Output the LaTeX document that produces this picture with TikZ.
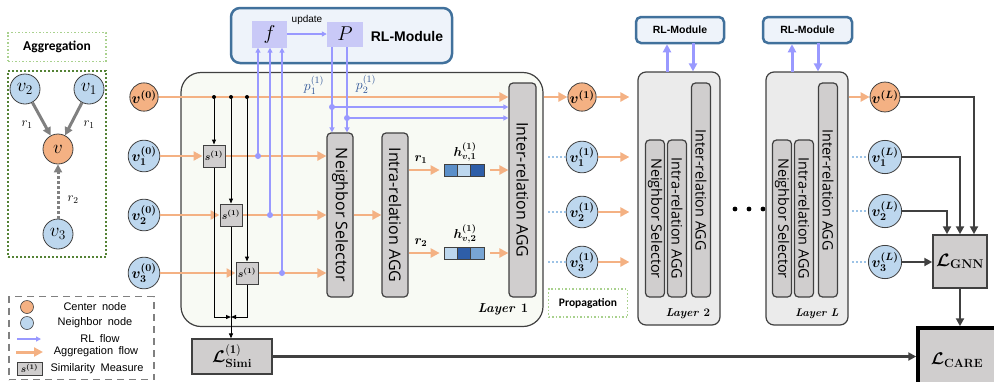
\documentclass[tikz,border=0pt]{standalone}
\usepackage{fix-cm}
\usepackage{amsmath,bm}
\usepackage{fontspec}
\newfontfamily\calibri{Carlito}
\newfontfamily\arialf{Liberation Sans}
\newfontfamily\opensans{Open Sans}
\usetikzlibrary{arrows.meta,calc}

\definecolor{orfill}{HTML}{F4B183}
\definecolor{orline}{HTML}{F4B183}
\definecolor{blfill}{HTML}{BDD7EE}
\definecolor{rlc}{HTML}{9999FF}
\definecolor{rlbox}{HTML}{C9C9F7}
\definecolor{modfill}{HTML}{EEF3FA}
\definecolor{modline}{HTML}{41719C}
\definecolor{boxgrey}{HTML}{D0CECE}
\definecolor{edge}{HTML}{404040}
\definecolor{l1fill}{HTML}{F8FAF4}
\definecolor{lfill}{HTML}{EBEBEB}
\definecolor{aggdark}{HTML}{548235}
\definecolor{agglight}{HTML}{A9D18E}
\definecolor{dotblue}{HTML}{9DC3E6}
\definecolor{pblue}{HTML}{2F5597}
\definecolor{hA}{HTML}{5B8FC9}
\definecolor{hB}{HTML}{BDD7EE}
\definecolor{hC}{HTML}{2E5EA8}

\newcommand{\fsz}[1]{\fontsize{#1}{#1}\selectfont}
\newcommand{\legfont}{\arialf\fsz{11}\spaceskip=0.5em\relax}

\begin{document}
\begin{tikzpicture}[x=1pt,y=-1pt,
  orflow/.style={draw=orline, line width=2.8pt, -{Triangle[length=9pt,width=9pt]}},
  rlflow/.style={draw=rlc, line width=1.3pt, -{Triangle[length=5pt,width=5pt]}},
  rlthick/.style={draw=rlc, line width=3pt, -{Triangle[length=8pt,width=8pt]}},
  blk/.style={draw=black, line width=1pt, -{Triangle[length=5pt,width=4pt]}},
  gflow/.style={draw=edge, line width=2.5pt, -{Triangle[length=8pt,width=8pt]}},
  aggflow/.style={draw=gray, line width=3pt, -{Triangle[length=8pt,width=8pt]}},
  onode/.style={circle, draw=edge, fill=orfill, line width=0.8pt, minimum size=28pt, inner sep=0pt, font=\fsz{15}},
  bnode/.style={circle, draw=edge, fill=blfill, line width=0.8pt, minimum size=28pt, inner sep=0pt, font=\fsz{15}},
  gbox/.style={draw=edge, fill=boxgrey, rounded corners=4pt, line width=1.2pt, inner sep=0pt},
  sbox/.style={draw=edge, fill=boxgrey, line width=1pt, minimum size=22pt, inner sep=0pt, font=\fsz{10.5}},
  cell/.style={draw=edge, line width=0.8pt, minimum width=13.3pt, minimum height=12pt, inner sep=0pt},
  dotb/.style={draw=dotblue, line width=2pt, dotted},
  rldot/.style={circle, fill=rlc, minimum size=6pt, inner sep=0pt},
  bdot/.style={circle, fill=black, minimum size=4pt, inner sep=0pt},
  layerbox/.style={draw=edge, fill=lfill, rounded corners=8pt, line width=1.2pt, inner sep=0pt},
  modbox/.style={draw=modline, fill=modfill, line width=2.5pt, rounded corners=5pt, inner sep=0pt, font=\arialf\bfseries\fsz{10.5}},
  rottext/.style={rotate=-90, font=\opensans\fsz{16}},
  rottexts/.style={rotate=-90, font=\opensans\fsz{14.4}},
  legtext/.style={font=\legfont},
]
\useasboundingbox (0,0) rectangle (994,381);

% ---------- aggregation sketch ----------
\node[draw=agglight, dotted, line width=1.5pt, minimum width=98pt, minimum height=29pt, font=\calibri\bfseries\fsz{13.5}] (aggl) at (57,47) {Aggregation};
\node[draw=aggdark, dotted, line width=2pt, minimum width=98pt, minimum height=186pt] (aggb) at (57,164) {};
\node[bnode, minimum size=30pt, font=\fsz{19}] (av2) at (25,89) {$v_2$};
\node[bnode, minimum size=30pt, font=\fsz{19}] (av1) at (89,89) {$v_1$};
\node[onode, minimum size=30pt, font=\fsz{19}] (avc) at (58,149) {$v$};
\node[bnode, minimum size=30pt, font=\fsz{19}] (av3) at (58,234) {$v_3$};
\draw[aggflow] (av2) -- (avc);
\draw[aggflow] (av1) -- (avc);
\draw[aggflow, dotted] (av3) -- (avc);
\node[font=\fsz{13}] (ar1a) at (27,125) {$r_1$};
\node[font=\fsz{13}] (ar1b) at (89,125) {$r_1$};
\node[font=\fsz{13}] (ar2) at (73,200) {$r_2$};

% ---------- legend ----------
\node[draw=gray, line width=1.8pt, dash pattern=on 7pt off 5pt, minimum width=145pt, minimum height=83pt] (leg) at (81.5,338) {};
\node[circle, draw=edge, fill=orfill, line width=0.6pt, minimum size=13pt, inner sep=0pt] (lego) at (27,307) {};
\node[circle, draw=edge, fill=blfill, line width=0.6pt, minimum size=13pt, inner sep=0pt] (legb) at (27,323) {};
\coordinate (lr1) at (17,339); \coordinate (lr2) at (41,339);
\draw[rlflow] (lr1) -- (lr2);
\coordinate (la1) at (16,352); \coordinate (la2) at (43,352);
\draw[orflow, line width=3pt] (la1) -- (la2);
\node[sbox, minimum width=25pt, minimum height=13pt, font=\fsz{10}] (legs) at (29.5,368.5) {$\bm{s^{(1)}}$};
\node[legtext] (lt1) at (95,307) {Center node};
\node[legtext] (lt2) at (95,323) {Neighbor node};
\node[legtext] (lt3) at (100,339) {RL flow};
\node[legtext] (lt4) at (96,352) {Aggregation flow};
\node[legtext] (lt5) at (97,369) {Similarity Measure};

% ---------- RL module of layer 1 ----------
\node[draw=modline, fill=modfill, line width=2.5pt, rounded corners=9pt, minimum width=221pt, minimum height=55pt] (rlm) at (341.5,35.5) {};
\node[fill=rlbox, minimum width=35pt, minimum height=27pt, inner sep=0pt, font=\fsz{20}] (f) at (269.5,34) {$f$};
\node[fill=rlbox, minimum width=36pt, minimum height=25pt, inner sep=0pt, font=\fsz{20}] (P) at (345,34) {$P$};
\draw[rlflow] (f.east) -- (P.west);
\node[font=\arialf\fsz{10}] (upd) at (307,20) {update};
\node[font=\arialf\bfseries\fsz{14}] (rlmt) at (407,36) {RL-Module};

% ---------- layer 1 ----------
\node[draw=edge, fill=l1fill, rounded corners=20pt, line width=1.2pt, minimum width=362pt, minimum height=254pt] (L1) at (362,199.5) {};
\node[font=\bfseries\itshape\fsz{13}] (L1t) at (503,309) {Layer \textup{1}};

\node[onode] (v0) at (144,97) {$\bm{v^{(0)}}$};
\node[bnode] (v10) at (144,156) {$\bm{v_1^{(0)}}$};
\node[bnode] (v20) at (144,215) {$\bm{v_2^{(0)}}$};
\node[bnode] (v30) at (144,273) {$\bm{v_3^{(0)}}$};

\node[sbox] (s1) at (214,156) {$\bm{s^{(1)}}$};
\node[sbox] (s2) at (231,215) {$\bm{s^{(1)}}$};
\node[sbox] (s3) at (247,273) {$\bm{s^{(1)}}$};

\node[gbox, minimum width=26pt, minimum height=164pt] (ns1) at (340,215) {};
\node[rottext] (ns1t) at (ns1) {Neighbor Selector};
\node[gbox, minimum width=26pt, minimum height=164pt] (intra1) at (395,215) {};
\node[rottext] (intra1t) at (intra1) {Intra-relation AGG};
\node[gbox, minimum width=27pt, minimum height=214pt] (inter1) at (522.5,190) {};
\node[rottext] (inter1t) at (inter1) {Inter-relation AGG};

% aggregation flow of layer 1
\draw[orflow] (v0.east) -- (v0.east -| inter1.west);
\draw[orflow] (v10.east) -- (s1.west);
\draw[orflow] (v20.east) -- (s2.west);
\draw[orflow] (v30.east) -- (s3.west);
\draw[orflow] (s1.east) -- (s1.east -| ns1.west);
\draw[orflow] (s2.east) -- (s2.east -| ns1.west);
\draw[orflow] (s3.east) -- (s3.east -| ns1.west);
\draw[orflow] (ns1.east) -- (intra1.west);

% similarity measures
\node[bdot] (b1) at (214,97) {};
\node[bdot] (b2) at (231,97) {};
\node[bdot] (b3) at (247,97) {};
\draw[blk] (b1.center) -- (s1.north);
\draw[blk] (b2.center) -- (s2.north);
\draw[blk] (b3.center) -- (s3.north);
\coordinate (jm) at (231,317);
\draw[blk] (s1.south) |- (jm);
\draw[blk] (s3.south) |- (jm);
\node[draw=edge, fill=boxgrey, line width=1.2pt, minimum width=80pt, minimum height=35pt, inner sep=0pt, font=\fsz{17}] (simi) at (232,356.5) {$\bm{\mathcal{L}}^{(\mathbf{1})}_{\textbf{Simi}}$};
\draw[blk] (s2.south) -- (s2.south |- simi.north);

% RL flow of layer 1
\node[rldot] (d1) at (258,156) {};
\node[rldot] (d2) at (270,215) {};
\node[rldot] (d3) at (282,273) {};
\draw[rlflow] (d1.center) -- (d1 |- f.south);
\draw[rlflow] (d2.center) -- (d2 |- f.south);
\draw[rlflow] (d3.center) -- (d3 |- f.south);
\coordinate (pa) at (332,47);
\coordinate (pb) at (347,47);
\draw[rlflow] (pa) -- (pa |- ns1.north);
\draw[rlflow] (pb) -- (pb |- ns1.north);
\node[rldot] (pd1) at (332,107) {};
\node[rldot] (pd2) at (347,118) {};
\draw[rlflow] (pd1.center) -- (pd1 -| inter1.west);
\draw[rlflow] (pd2.center) -- (pd2 -| inter1.west);
\node[text=pblue, font=\fsz{14}] (p1l) at (314,85) {$p_1^{(1)}$};
\node[text=pblue, font=\fsz{14}] (p2l) at (366,84) {$p_2^{(1)}$};

% relation embeddings
\node[cell, fill=hA] (h1a) at (450.7,170) {};
\node[cell, fill=hB] (h1b) at (464,170) {};
\node[cell, fill=hC] (h1c) at (477.3,170) {};
\node[cell, fill=hB] (h2a) at (450.7,253) {};
\node[cell, fill=hC] (h2b) at (464,253) {};
\node[cell, fill=hA!70!hB] (h2c) at (477.3,253) {};
\draw[orflow, shorten >=4pt] (intra1.east |- h1a) -- (h1a.west);
\draw[orflow, shorten >=4pt] (intra1.east |- h2a) -- (h2a.west);
\draw[orflow, shorten <=6pt] (h1c.east) -- (h1c -| inter1.west);
\draw[orflow, shorten <=6pt] (h2c.east) -- (h2c -| inter1.west);
\node[font=\fsz{13}] (r1l) at (421,160) {$\bm{r_1}$};
\node[font=\fsz{13}] (r2l) at (421,243) {$\bm{r_2}$};
\node[font=\fsz{13}] (h1l) at (465,152) {$\bm{h_{v,1}^{(1)}}$};
\node[font=\fsz{13}] (h2l) at (465,234) {$\bm{h_{v,2}^{(1)}}$};

% ---------- propagation ----------
\node[draw=agglight, dotted, line width=1.5pt, minimum width=79pt, minimum height=28pt, font=\calibri\bfseries\fsz{11.5}] (prop) at (588,303) {Propagation};
\node[onode] (v1o) at (582,97) {$\bm{v^{(1)}}$};
\node[bnode] (v11) at (582,157) {$\bm{v_1^{(1)}}$};
\node[bnode] (v21) at (582,212) {$\bm{v_2^{(1)}}$};
\node[bnode] (v31) at (582,262) {$\bm{v_3^{(1)}}$};

% ---------- layer 2 ----------
\node[layerbox, minimum width=82pt, minimum height=253pt] (L2) at (679,198.5) {};
\node[gbox, minimum width=19pt, minimum height=157pt] (ns2) at (655,218.5) {};
\node[rottexts] (ns2t) at (ns2) {Neighbor Selector};
\node[gbox, minimum width=19pt, minimum height=157pt] (intra2) at (677,218.5) {};
\node[rottexts] (intra2t) at (intra2) {Intra-relation AGG};
\node[gbox, minimum width=19pt, minimum height=214pt] (inter2) at (701,190) {};
\node[rottexts] (inter2t) at (inter2) {Inter-relation AGG};
\node[font=\bfseries\itshape\fsz{11.5}] (L2t) at (688,314) {Layer \textup{2}};
\node[modbox, minimum width=88pt, minimum height=26pt] (rm2) at (680,30) {RL-Module};
\coordinate (u2) at (667,72); \coordinate (w2) at (693,43);
\draw[rlthick] (u2) -- (u2 |- rm2.south);
\draw[rlthick] (w2) -- (w2 |- L2.north);

\draw[orflow] (L1.east |- v1o) -- (v1o.west);
\draw[orflow, shorten >=8pt] (v1o.east) -- (v1o -| L2.west);
\draw[orflow, shorten >=8pt] (v11.east) -- (v11 -| L2.west);
\draw[orflow, shorten >=8pt] (v21.east) -- (v21 -| L2.west);
\draw[orflow, shorten >=8pt] (v31.east) -- (v31 -| L2.west);
\coordinate (q1) at (548,157); \coordinate (q2) at (548,212); \coordinate (q3) at (548,262);
\draw[dotb] (q1) -- (v11.west);
\draw[dotb] (q2) -- (v21.west);
\draw[dotb] (q3) -- (v31.west);

% ellipsis between layers
\fill (735,209) circle (2.4pt);
\fill (749,209) circle (2.4pt);
\fill (763,209) circle (2.4pt);

% ---------- layer L ----------
\node[layerbox, minimum width=82pt, minimum height=253pt] (LL) at (807,198.5) {};
\node[gbox, minimum width=19pt, minimum height=157pt] (nsL) at (782,218.5) {};
\node[rottexts] (nsLt) at (nsL) {Neighbor Selector};
\node[gbox, minimum width=19pt, minimum height=157pt] (intraL) at (804,218.5) {};
\node[rottexts] (intraLt) at (intraL) {Intra-relation AGG};
\node[gbox, minimum width=19pt, minimum height=214pt] (interL) at (828,190) {};
\node[rottexts] (interLt) at (interL) {Inter-relation AGG};
\node[font=\bfseries\itshape\fsz{11}] (LLt) at (817,314) {Layer L};
\node[modbox, minimum width=89pt, minimum height=26pt] (rmL) at (807.5,30) {RL-Module};
\coordinate (uL) at (792,72); \coordinate (wL) at (818,43);
\draw[rlthick] (uL) -- (uL |- rmL.south);
\draw[rlthick] (wL) -- (wL |- LL.north);

\node[onode] (vL) at (885,97) {$\bm{v^{(L)}}$};
\node[bnode] (v1L) at (885,157) {$\bm{v_1^{(L)}}$};
\node[bnode] (v2L) at (885,211) {$\bm{v_2^{(L)}}$};
\node[bnode] (v3L) at (885,262) {$\bm{v_3^{(L)}}$};
\draw[orflow] (LL.east |- vL) -- (vL.west);
\coordinate (k1) at (852,157); \coordinate (k2) at (852,211); \coordinate (k3) at (852,262);
\draw[dotb] (k1) -- (v1L.west);
\draw[dotb] (k2) -- (v2L.west);
\draw[dotb] (k3) -- (v3L.west);

% ---------- losses ----------
\node[draw=edge, fill=boxgrey, line width=1.5pt, minimum width=54pt, minimum height=53pt, inner sep=0pt, font=\fsz{18}] (gnn) at (960,261.5) {$\bm{\mathcal{L}}_{\textbf{GNN}}$};
\draw[gflow] (vL.east) -| ([xshift=14pt]gnn.north);
\draw[gflow] (v1L.east) -| (gnn.north);
\draw[gflow] (v2L.east) -| ([xshift=-13pt]gnn.north);
\draw[gflow] (v3L.east) -- (v3L -| gnn.west);
\begin{scope}
\clip (0,0) rectangle (994,381);
\node[draw=black, fill=boxgrey, line width=3.5pt, minimum width=82pt, minimum height=64pt, inner sep=0pt, font=\fsz{17}] (care) at (959,360) {};
\node[font=\fsz{17}] (caret) at (957,360) {$\bm{\mathcal{L}}_{\textbf{CARE}}$};
\end{scope}
\draw[gflow] (gnn.south) -- (gnn.south |- care.north);
\draw[gflow] (simi.east) -- (simi.east -| care.west);
\end{tikzpicture}
\end{document}
